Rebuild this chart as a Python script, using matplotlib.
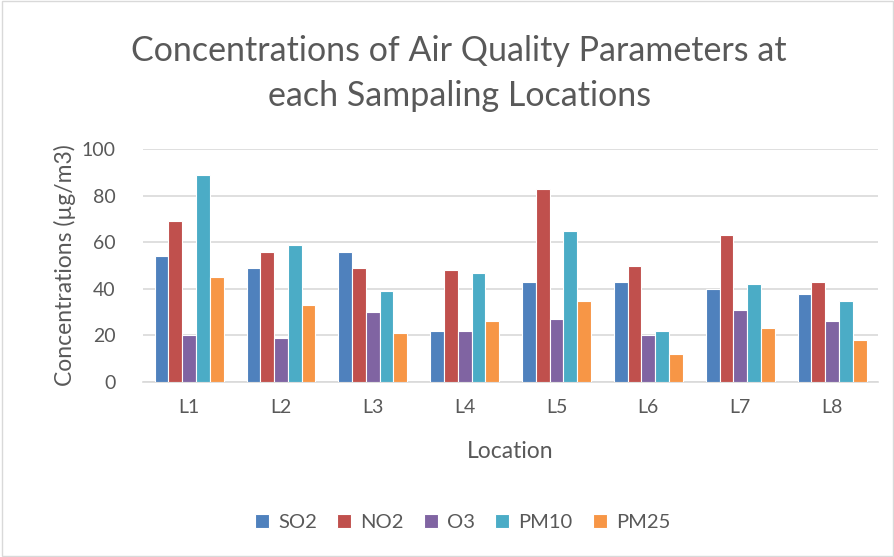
import matplotlib
matplotlib.use("Agg")
import matplotlib.pyplot as plt
import numpy as np

locations = ["L1", "L2", "L3", "L4", "L5", "L6", "L7", "L8"]
so2 = [54, 49, 56, 22, 43, 43, 40, 38]
no2 = [69, 56, 49, 48, 83, 50, 63, 43]
o3 = [20, 19, 30, 22, 27, 20, 31, 26]
pm10 = [89, 59, 39, 47, 65, 22, 42, 35]
pm25 = [45, 33, 21, 26, 35, 12, 23, 18]

series_names = ["SO2", "NO2", "O3", "PM10", "PM25"]
colors = ["#4F81BD", "#C0504D", "#8064A2", "#4BACC6", "#F79646"]

plt.rcParams['font.family'] = ['Lato', 'DejaVu Sans']
txt = "#595959"

fig = plt.figure(figsize=(8.95, 5.57), dpi=100)
ax = fig.add_axes([0.160, 0.314, 0.821, 0.4185])

x = np.arange(len(locations))
w = 0.15
for i, (vals, name, c) in enumerate(zip([so2, no2, o3, pm10, pm25], series_names, colors)):
    ax.bar(x + (i - 2) * w, vals, w, color=c, edgecolor="white", linewidth=0.8,
           label=name, zorder=3)

ax.set_xlim(-0.5, len(locations) - 0.5)
ax.set_ylim(0, 100)
ax.set_yticks(range(0, 101, 20))
ax.set_xticks(x)
ax.set_xticklabels(locations)
ax.grid(axis="y", color="#D9D9D9", linewidth=1.2, zorder=0)
for s in ["top", "right", "left"]:
    ax.spines[s].set_visible(False)
ax.spines["bottom"].set_color("#D9D9D9")
ax.spines["bottom"].set_linewidth(1.2)
ax.tick_params(axis="both", length=0, labelsize=14, colors=txt, pad=12)
ax.tick_params(axis="y", pad=20)

ax.set_xlabel("Location", fontsize=16.5, color=txt, labelpad=18)
ax.set_ylabel("Concentrations (µg/m3)", fontsize=16.5, color=txt, labelpad=4)
fig.text(0.513, 0.868, "Concentrations of Air Quality Parameters at\neach Sampaling Locations",
         ha="center", va="center", fontsize=24.5, color=txt, linespacing=1.5)

ax.legend(loc="center", bbox_to_anchor=(0.517, 0.062), bbox_transform=fig.transFigure,
          ncol=5, frameon=False, fontsize=14.5, labelcolor=txt, handlelength=0.7,
          handleheight=0.7, columnspacing=1.0, handletextpad=0.45)

fig.patches.append(plt.Rectangle((0.002, 0.002), 0.996, 0.996, transform=fig.transFigure,
                                 fill=False, edgecolor="#D9D9D9", linewidth=1))

fig.savefig("out.png", dpi=100)
